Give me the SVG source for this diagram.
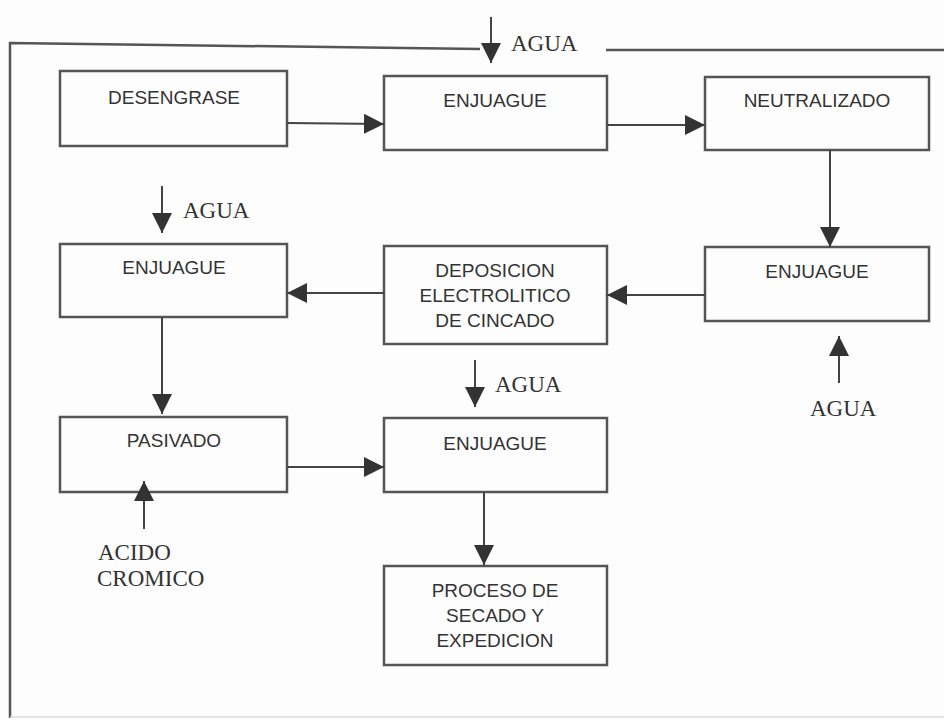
<svg xmlns="http://www.w3.org/2000/svg" width="944" height="720" viewBox="0 0 944 720">
<defs>
<style>
.bg{fill:#fdfdfd}
.box{fill:none;stroke:#555;stroke-width:2.5}
.lbl{font-family:"Liberation Sans",Arial,sans-serif;font-size:19px;fill:#333;text-anchor:middle}
.ser{font-family:"Liberation Serif","Times New Roman",serif;font-size:23px;fill:#333}
.ln{stroke:#444;stroke-width:2;fill:none}
.frame{stroke:#555;stroke-width:2.5;fill:none}
</style>
<marker id="arr" viewBox="0 0 20 20" refX="20" refY="10" markerWidth="20" markerHeight="20" markerUnits="userSpaceOnUse" orient="auto">
<path d="M0,0 L20,10 L0,20 z" fill="#333"/>
</marker>
</defs>
<rect class="bg" x="0" y="0" width="944" height="720"/>
<g id="frame">
<path class="frame" d="M480,49 L10,43 L10,718"/>
<path class="frame" d="M606,50 L944,50"/>
<path d="M10,717 L944,717" stroke="#ddd" stroke-width="1.5" fill="none"/>
</g>
<g id="n1"><rect class="box" x="60" y="71" width="227" height="75"/><text class="lbl" x="174" y="104">DESENGRASE</text></g>
<g id="n2"><rect class="box" x="384" y="76" width="223" height="74"/><text class="lbl" x="495" y="107">ENJUAGUE</text></g>
<g id="n3"><rect class="box" x="705" y="77" width="224" height="73"/><text class="lbl" x="817" y="107">NEUTRALIZADO</text></g>
<g id="n4"><rect class="box" x="705" y="247" width="224" height="74"/><text class="lbl" x="817" y="278">ENJUAGUE</text></g>
<g id="n5"><rect class="box" x="384" y="246" width="223" height="98"/><text class="lbl" x="495" y="277">DEPOSICION</text><text class="lbl" x="495" y="302">ELECTROLITICO</text><text class="lbl" x="495" y="327">DE CINCADO</text></g>
<g id="n6"><rect class="box" x="60" y="244" width="227" height="73"/><text class="lbl" x="174" y="274">ENJUAGUE</text></g>
<g id="n7"><rect class="box" x="60" y="417" width="227" height="75"/><text class="lbl" x="174" y="447">PASIVADO</text></g>
<g id="n8"><rect class="box" x="384" y="418" width="223" height="74"/><text class="lbl" x="495" y="450">ENJUAGUE</text></g>
<g id="n9"><rect class="box" x="384" y="566" width="223" height="99"/><text class="lbl" x="495" y="597">PROCESO DE</text><text class="lbl" x="495" y="622">SECADO Y</text><text class="lbl" x="495" y="647">EXPEDICION</text></g>
<g id="inputs">
<text class="ser" x="511" y="51">AGUA</text>
<text class="ser" x="183" y="218">AGUA</text>
<text class="ser" x="495" y="392">AGUA</text>
<text class="ser" x="810" y="416">AGUA</text>
<text class="ser" x="98" y="560">ACIDO</text>
<text class="ser" x="97" y="586">CROMICO</text>
</g>
<g id="connectors">
<line class="ln" x1="287" y1="123" x2="384" y2="124" marker-end="url(#arr)"/>
<line class="ln" x1="607" y1="125" x2="705" y2="125" marker-end="url(#arr)"/>
<line class="ln" x1="830" y1="150" x2="830" y2="247" marker-end="url(#arr)"/>
<line class="ln" x1="705" y1="295" x2="607" y2="295" marker-end="url(#arr)"/>
<line class="ln" x1="384" y1="293" x2="287" y2="293" marker-end="url(#arr)"/>
<line class="ln" x1="162" y1="317" x2="162" y2="414" marker-end="url(#arr)"/>
<line class="ln" x1="287" y1="467" x2="384" y2="467" marker-end="url(#arr)"/>
<line class="ln" x1="484" y1="492" x2="484" y2="565" marker-end="url(#arr)"/>
<line class="ln" x1="491" y1="17" x2="491" y2="63" marker-end="url(#arr)"/>
<line class="ln" x1="162" y1="186" x2="162" y2="233" marker-end="url(#arr)"/>
<line class="ln" x1="475" y1="360" x2="475" y2="407" marker-end="url(#arr)"/>
<line class="ln" x1="839" y1="383" x2="839" y2="336" marker-end="url(#arr)"/>
<line class="ln" x1="144" y1="529" x2="144" y2="481" marker-end="url(#arr)"/>
</g>
</svg>
